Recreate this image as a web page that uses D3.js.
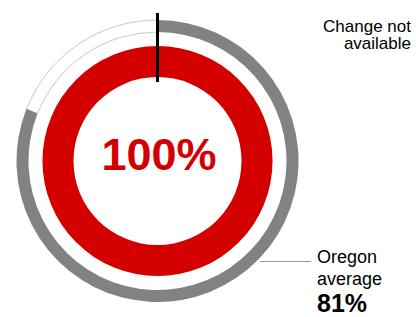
<!DOCTYPE html>
<html>
<head>
<meta charset="utf-8">
<script src="https://cdn.jsdelivr.net/npm/d3@7"></script>
<style>
  body { margin: 0; background: #fff; }
  svg { display: block; font-family: "Liberation Sans", Arial, sans-serif; }
</style>
</head>
<body>
<div id="chart"></div>
<script>
let width = 416
let height = 317

// values
let schoolValue = [100]
let stateAverage = [81]
let valueLabels = ['100%']
let averageLabels = ['Oregon', 'average', '81%']
let changeLabels = ['Change not', 'available']

let cx = 157.5
let cy = 161

let svg = d3.select('#chart').append('svg')
  .attr('width', width)
  .attr('height', height)

let g = svg.append('g').attr('transform', `translate(${cx}, ${cy})`)

let angle = d3.scaleLinear().domain([0, 100]).range([0, 2 * Math.PI])

// -- outer ring: state average
let outerArc = d3.arc().innerRadius(129).outerRadius(141)

// faint outline for the part of the ring not filled
g.append('path')
  .attr('d', outerArc({ startAngle: angle(stateAverage[0]), endAngle: angle(100) }))
  .attr('fill', 'none')
  .attr('stroke', '#c8c8c8')
  .attr('stroke-width', 1)

g.append('path')
  .attr('d', outerArc({ startAngle: 0, endAngle: angle(stateAverage[0]) }))
  .attr('fill', '#808285')

// -- inner ring: school value
let innerArc = d3.arc().innerRadius(84).outerRadius(115)
g.append('path')
  .attr('d', innerArc({ startAngle: 0, endAngle: angle(schoolValue[0]) }))
  .attr('fill', '#d40000')

// start marker
g.append('line')
  .attr('x1', 0).attr('x2', 0)
  .attr('y1', -148).attr('y2', -79)
  .attr('stroke', '#000')
  .attr('stroke-width', 3)

g.append('text')
  .attr('x', 1.5)
  .attr('y', 9)
  .attr('text-anchor', 'middle')
  .attr('font-size', 45)
  .attr('font-weight', 'bold')
  .attr('fill', '#d40000')
  .text(valueLabels[0])

// -- average label with leader
svg.append('line')
  .attr('x1', 260).attr('x2', 311)
  .attr('y1', 261.5).attr('y2', 261.5)
  .attr('stroke', '#999')
  .attr('stroke-width', 1)

svg.append('text').attr('x', 317).attr('y', 263)
  .attr('font-size', 18).attr('fill', '#000').text(averageLabels[0])
svg.append('text').attr('x', 317).attr('y', 285)
  .attr('font-size', 18).attr('fill', '#000').text(averageLabels[1])
svg.append('text').attr('x', 317).attr('y', 312)
  .attr('font-size', 25).attr('font-weight', 'bold').attr('fill', '#000').text(averageLabels[2])

// -- change label
svg.selectAll('.change')
  .data(changeLabels)
  .enter()
  .append('text')
  .attr('class', 'change')
  .attr('x', 411)
  .attr('y', (d, i) => 31.5 + i * 17.8)
  .attr('text-anchor', 'end')
  .attr('font-size', 17)
  .attr('fill', '#000')
  .text(d => d)
</script>
</body>
</html>
